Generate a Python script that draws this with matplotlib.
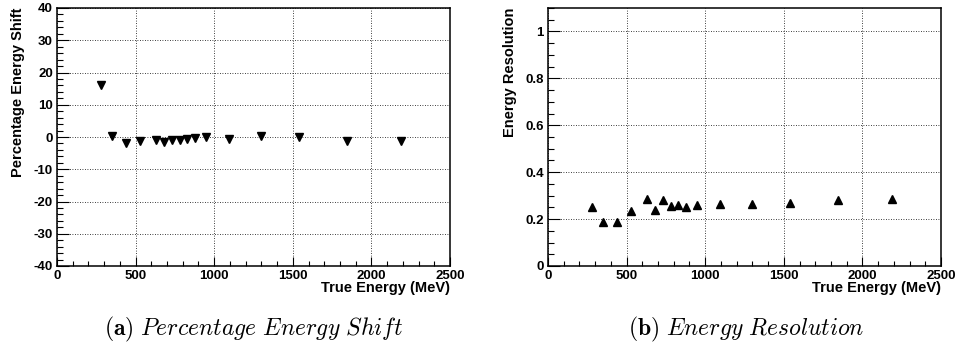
"""Energy shift and resolution vs true energy"""
import matplotlib
matplotlib.use("Agg")
import matplotlib.pyplot as plt
from matplotlib.ticker import MultipleLocator

plt.rcParams["font.family"] = ["Liberation Sans", "DejaVu Sans"]
plt.rcParams["font.weight"] = "bold"
plt.rcParams["mathtext.fontset"] = "cm"
plt.rcParams["axes.unicode_minus"] = False

# true energy of each sample point (MeV)
true_energy = [280, 350, 440, 530, 630, 680, 730, 780, 830, 880, 950,
               1095, 1295, 1540, 1845, 2190]
# percentage shift of reconstructed energy
energy_shift = [16.0, 0.3, -1.8, -1.2, -0.8, -1.4, -1.0, -1.0, -0.5, -0.3,
                0.1, -0.6, 0.2, 0.0, -1.2, -1.1]
# fractional energy resolution
energy_res = [0.250, 0.188, 0.188, 0.236, 0.287, 0.239, 0.282, 0.256,
              0.262, 0.250, 0.259, 0.265, 0.265, 0.268, 0.280, 0.285]

W, H = 959, 346
fig = plt.figure(figsize=(W / 100, H / 100), dpi=100)

ax1 = fig.add_axes([57 / W, 1 - 266 / H, 393 / W, 258 / H])
ax2 = fig.add_axes([548 / W, 1 - 266 / H, 393 / W, 258 / H])


def root_style(ax, ylabel, ymaj, ymin):
    ax.set_xlim(0, 2500)
    ax.xaxis.set_major_locator(MultipleLocator(500))
    ax.xaxis.set_minor_locator(MultipleLocator(100))
    ax.yaxis.set_major_locator(MultipleLocator(ymaj))
    ax.yaxis.set_minor_locator(MultipleLocator(ymin))
    ax.tick_params(which="both", direction="in", top=False, right=False,
                   labelsize=9.5, width=0.8)
    ax.tick_params(axis="y", which="major", length=8.5, pad=3)
    ax.tick_params(axis="y", which="minor", length=4.3)
    ax.tick_params(axis="x", which="major", length=6.5, pad=3)
    ax.tick_params(axis="x", which="minor", length=3.3)
    for lbl in ax.get_xticklabels() + ax.get_yticklabels():
        lbl.set_fontweight("bold")
    ax.grid(True, which="major", color="black", linestyle=(0, (1, 2)),
            linewidth=0.6)
    for sp in ax.spines.values():
        sp.set_linewidth(1.1)
    ax.set_xlabel("True Energy (MeV)", loc="right", fontsize=10.5,
                  fontweight="bold", labelpad=-1)
    ax.set_ylabel(ylabel, loc="top", fontsize=10.5, fontweight="bold",
                  labelpad=6)


ax1.plot(true_energy, energy_shift, linestyle="none", marker="v",
         markersize=5.5, color="black")
ax1.set_ylim(-40, 40)
root_style(ax1, "Percentage Energy Shift", 10, 2)

ax2.plot(true_energy, energy_res, linestyle="none", marker="^",
         markersize=5.5, color="black")
ax2.set_ylim(0, 1.1)
ax2.yaxis.set_major_formatter(plt.FuncFormatter(lambda v, p: f"{v:g}"))
root_style(ax2, "Energy Resolution", 0.2, 0.05)

# sub-figure captions
fig.text(254 / W, 1 - 335 / H,
         r"$\mathbf{(a)}$ $\mathit{Percentage\ Energy\ Shift}$",
         ha="center", va="baseline", fontsize=17)
fig.text(746 / W, 1 - 335 / H,
         r"$\mathbf{(b)}$ $\mathit{Energy\ Resolution}$",
         ha="center", va="baseline", fontsize=17)

fig.savefig("out.png", dpi=100)
plt.close()
